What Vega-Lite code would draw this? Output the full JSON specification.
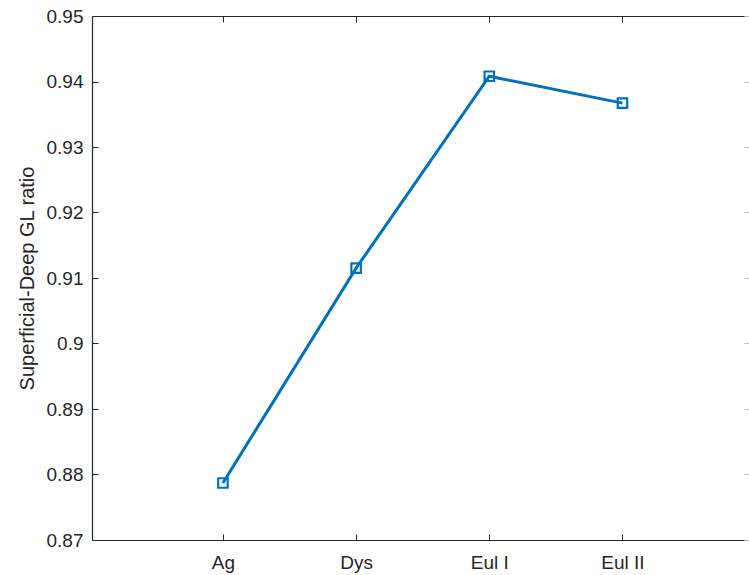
{
  "$schema": "https://vega.github.io/schema/vega-lite/v6.json",
  "autosize": "none",
  "padding": {"left": 92, "top": 16, "right": 0, "bottom": 35},
  "width": 657,
  "height": 524,
  "background": "white",
  "config": {
    "view": {"stroke": null},
    "axis": {"labelFont": "Liberation Sans", "titleFont": "Liberation Sans", "labelColor": "#262626", "titleColor": "#262626", "domain": true, "domainColor": "#262626", "domainWidth": 1.2, "grid": false, "tickColor": "#262626", "labelFontSize": 19, "titleFontSize": 20, "titleFontWeight": "normal"}
  },
  "data": {"values": [
    {"group": "Ag", "pos": 1, "ratio": 0.8787},
    {"group": "Dys", "pos": 2, "ratio": 0.9115},
    {"group": "Eul I", "pos": 3, "ratio": 0.9408},
    {"group": "Eul II", "pos": 4, "ratio": 0.9367}
  ]},
  "encoding": {
    "x": {"field": "pos", "type": "quantitative", "scale": {"domain": [0.017, 4.95], "nice": false, "zero": false}},
    "y": {"field": "ratio", "type": "quantitative", "scale": {"domain": [0.87, 0.95], "nice": false, "zero": false}}
  },
  "layer": [
    {
      "mark": {"type": "line", "color": "#0072BD", "strokeWidth": 3, "point": {"shape": "square", "filled": false, "size": 90, "strokeWidth": 2.2, "color": "#0072BD"}},
      "encoding": {
        "x": {"field": "pos", "type": "quantitative", "axis": {"orient": "bottom", "title": null, "values": [1, 2, 3, 4], "labelExpr": "datum.value == 1 ? 'Ag' : datum.value == 2 ? 'Dys' : datum.value == 3 ? 'Eul I' : 'Eul II'", "tickSize": -6, "labelPadding": 19}},
        "y": {"field": "ratio", "type": "quantitative", "axis": {"orient": "left", "title": "Superficial-Deep GL ratio", "values": [0.87, 0.88, 0.89, 0.9, 0.91, 0.92, 0.93, 0.94, 0.95], "labelExpr": "format(datum.value, '.2~f')", "tickSize": -6, "labelPadding": 15, "titlePadding": 9}}
      }
    },
    {
      "mark": {"type": "line", "opacity": 0},
      "encoding": {
        "x": {"field": "pos", "type": "quantitative", "axis": {"orient": "top", "title": null, "values": [1, 2, 3, 4], "labels": false, "tickSize": -6}},
        "y": {"field": "ratio", "type": "quantitative", "axis": {"orient": "right", "title": null, "domain": false, "values": [0.87, 0.88, 0.89, 0.9, 0.91, 0.92, 0.93, 0.94, 0.95], "labels": false, "tickSize": -5, "tickColor": "#bbbbbb"}}
      }
    }
  ],
  "resolve": {"axis": {"x": "independent", "y": "independent"}}
}
